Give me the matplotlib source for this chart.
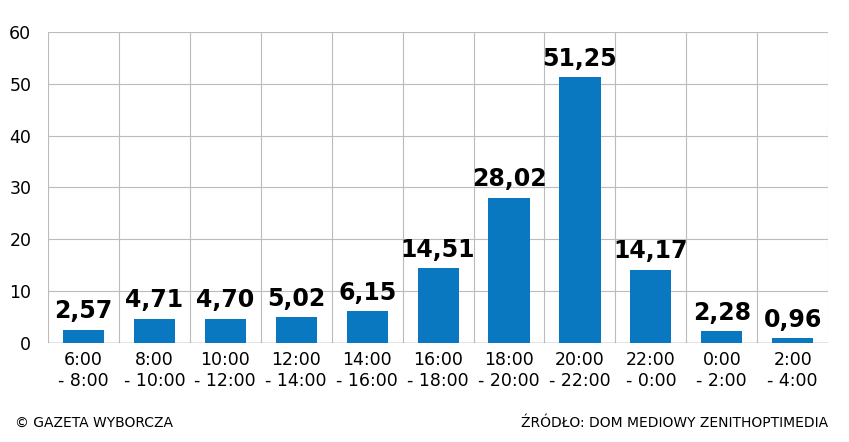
import matplotlib.pyplot as plt
import numpy as np

przedzialy = ["6:00\n- 8:00", "8:00\n- 10:00", "10:00\n- 12:00", "12:00\n- 14:00",
              "14:00\n- 16:00", "16:00\n- 18:00", "18:00\n- 20:00", "20:00\n- 22:00",
              "22:00\n- 0:00", "0:00\n- 2:00", "2:00\n- 4:00"]
wartosci = [2.57, 4.71, 4.70, 5.02, 6.15, 14.51, 28.02, 51.25, 14.17, 2.28, 0.96]
y_ticki = [0, 10, 20, 30, 40, 50, 60]

fig = plt.figure(figsize=(8.49, 4.42), dpi=100)
ax = fig.add_axes([0.0565, 0.224, 0.919, 0.704])

x = np.arange(len(wartosci))
ax.bar(x, wartosci, width=0.58, color='#0a78c0', zorder=3)

for xi, v in zip(x, wartosci):
    ax.text(xi, v + 1.2, f"{v:.2f}".replace('.', ','), ha='center', va='bottom',
            fontsize=17, fontweight='heavy', color='black', zorder=4)

ax.set_xlim(-0.5, len(wartosci) - 0.5)
ax.set_ylim(0, 60)
ax.set_yticks(y_ticki)
ax.set_xticks(x)
ax.set_xticklabels(przedzialy, fontsize=12.5, linespacing=1.2)
ax.tick_params(axis='y', labelsize=12.5, length=0, pad=12)
ax.tick_params(axis='x', length=0, pad=6)

# siatka
for g in np.arange(-0.5, len(wartosci), 1):
    ax.axvline(g, color='#bbbbbb', linewidth=0.8, zorder=1)
for t in y_ticki:
    ax.axhline(t, color='#bbbbbb', linewidth=0.8, zorder=1)
for s in ax.spines.values():
    s.set_visible(False)
ax.axhline(0, color='#888888', linewidth=1, zorder=2)

fig.text(0.018, 0.035, "© GAZETA WYBORCZA", fontsize=10, ha='left')
fig.text(0.975, 0.035, "ŹRÓDŁO: DOM MEDIOWY ZENITHOPTIMEDIA", fontsize=10, ha='right')

plt.savefig("out.png", dpi=100)
plt.close()
